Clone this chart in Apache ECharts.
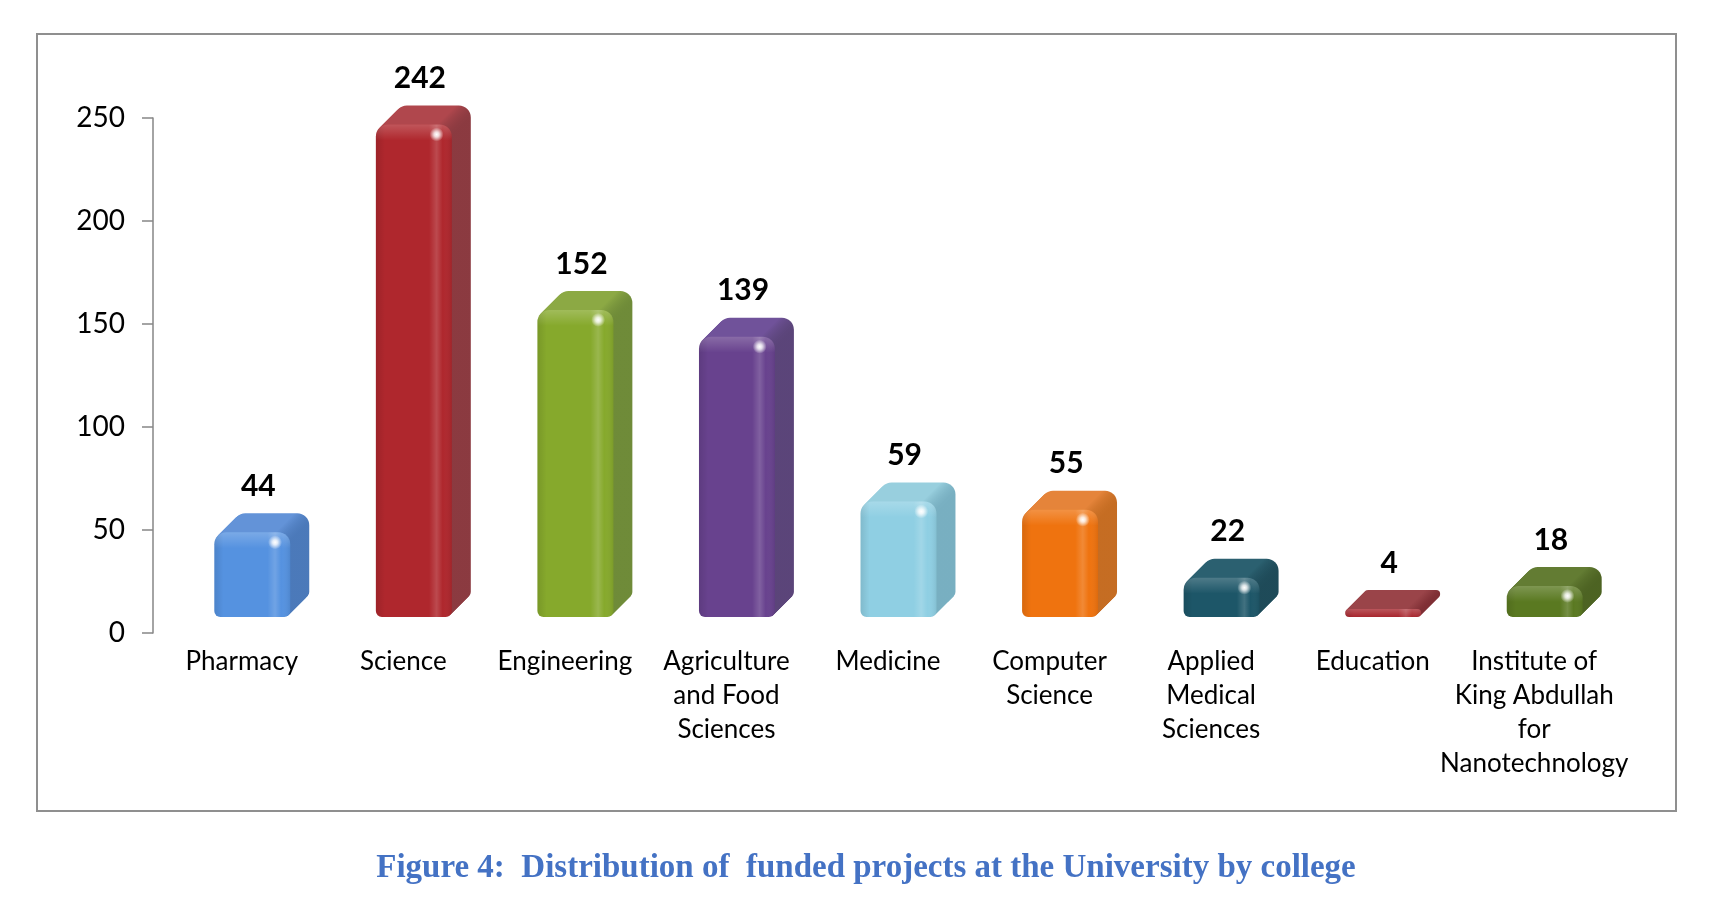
<!DOCTYPE html>
<html>
<head>
<meta charset="utf-8">
<title>Funded projects by college</title>
<script src="https://cdn.jsdelivr.net/npm/echarts@6.0.0/dist/echarts.min.js"></script>
<style>
  html, body { margin: 0; padding: 0; background: #ffffff; }
  #chart { width: 1712px; height: 919px; }
</style>
</head>
<body>
<div id="chart"></div>
<script>
// data
const colleges = [
  "Pharmacy",
  "Science",
  "Engineering",
  "Agriculture\nand Food\nSciences",
  "Medicine",
  "Computer\nScience",
  "Applied\nMedical\nSciences",
  "Education",
  "Institute of\nKing Abdullah\nfor\nNanotechnology",
];
const projects = [44, 242, 152, 139, 59, 55, 22, 4, 18];
const yTicks = [0, 50, 100, 150, 200, 250];

const frontColors = ["#5592E0", "#AF272D", "#86A92C", "#68428E", "#8FCFE3", "#EF730F", "#1D5668", "#A8262E", "#5A7921"];
const topColors = ["#6393D8", "#B0474D", "#8CA944", "#70529A", "#98CFDE", "#E5843A", "#2B6070", "#9A4449", "#637C33"];
const sideColors = ["#4A78B8", "#8A3A40", "#6E8A38", "#5A4478", "#77AEC0", "#C46C22", "#1E4A58", "#7E2E34", "#4C6222"];

const caption = "Figure 4:  Distribution of  funded projects at the University by college";

const myChart = echarts.init(document.getElementById("chart"));

// rounded 3D box for each college
function renderBox(params, api) {
  const idx = api.value(0);
  const val = api.value(1);
  const topPt = api.coord([idx, val]);
  const basePt = api.coord([idx, 0]);
  const band = api.size([1, 0])[0];
  const w = band * 0.47;
  const x0 = topPt[0] - band * 0.17;
  const depth = Math.round(band * 0.115);
  const bottom = basePt[1] - 16;
  const top = Math.min(topPt[1] - 10, bottom - 8);
  const h = bottom - top;
  const r = Math.min(12, h / 2);
  const rb = Math.min(6, h / 2);
  const children = [];

  // extrusion (top + side faces)
  for (let k = depth; k >= 1; k--) {
    children.push({
      type: "rect",
      shape: { x: x0 + k, y: top - k, width: w, height: h, r: [r, r, rb, rb] },
      style: {
        fill: new echarts.graphic.LinearGradient(0, 0, 1, 0, [
          { offset: 0, color: topColors[idx] },
          { offset: 0.8, color: topColors[idx] },
          { offset: 1, color: sideColors[idx] },
        ]),
      },
    });
  }
  // front face
  children.push({
    type: "rect",
    shape: { x: x0, y: top, width: w, height: h, r: [r, r, rb, rb] },
    style: { fill: frontColors[idx] },
  });
  children.push({
    type: "rect",
    shape: { x: x0, y: top, width: w, height: h, r: [r, r, rb, rb] },
    style: {
      fill: new echarts.graphic.LinearGradient(0, 0, 1, 0, [
        { offset: 0, color: "rgba(0,0,0,0.10)" },
        { offset: 0.12, color: "rgba(0,0,0,0)" },
        { offset: 0.7, color: "rgba(255,255,255,0)" },
        { offset: 0.8, color: "rgba(255,255,255,0.16)" },
        { offset: 0.88, color: "rgba(255,255,255,0)" },
        { offset: 1, color: "rgba(0,0,0,0.08)" },
      ]),
    },
  });
  // top bevel
  children.push({
    type: "rect",
    shape: { x: x0, y: top, width: w, height: Math.min(h, 16), r: [r, r, 0, 0] },
    style: {
      fill: new echarts.graphic.LinearGradient(0, 0, 0, 1, [
        { offset: 0, color: "rgba(255,255,255,0.22)" },
        { offset: 1, color: "rgba(255,255,255,0)" },
      ]),
    },
  });
  // specular spot
  if (h > 20) {
    children.push({
      type: "circle",
      shape: { cx: x0 + w * 0.8, cy: top + 10, r: 7 },
      style: {
        fill: new echarts.graphic.RadialGradient(0.5, 0.5, 0.5, [
          { offset: 0, color: "rgba(255,255,255,1)" },
          { offset: 0.35, color: "rgba(255,255,255,0.8)" },
          { offset: 1, color: "rgba(255,255,255,0)" },
        ]),
      },
    });
  }
  // value label
  children.push({
    type: "text",
    x: x0 + w * 0.58,
    y: top - depth - 12,
    style: {
      text: String(val),
      fill: "#000",
      fontSize: 30,
      fontWeight: "bold",
      fontFamily: "Lato",
      align: "center",
      verticalAlign: "bottom",
    },
  });
  return { type: "group", children: children };
}

const option = {
  backgroundColor: "#ffffff",
  animation: false,
  grid: { left: 161, right: 97, top: 118, bottom: 286 },
  xAxis: {
    type: "category",
    data: colleges,
    axisLine: { show: false },
    axisTick: { show: false },
    axisLabel: {
      interval: 0,
      fontSize: 26,
      fontFamily: "Lato",
      color: "#000",
      lineHeight: 34,
      margin: 12,
    },
  },
  yAxis: {
    type: "value",
    min: yTicks[0],
    max: yTicks[yTicks.length - 1],
    interval: yTicks[1] - yTicks[0],
    offset: 8,
    axisLine: { show: true, lineStyle: { color: "#868686", width: 1.5 } },
    axisTick: { show: true, length: 11, lineStyle: { color: "#868686", width: 1.5 } },
    splitLine: { show: false },
    axisLabel: { fontSize: 28, fontFamily: "Lato", color: "#000", margin: 28 },
  },
  series: [
    {
      type: "custom",
      renderItem: renderBox,
      data: projects.map((v, i) => [i, v]),
      encode: { x: 0, y: 1 },
    },
  ],
  graphic: [
    {
      type: "rect",
      silent: true,
      z: -1,
      shape: { x: 37, y: 34, width: 1639, height: 777 },
      style: { fill: "transparent", stroke: "#8F8F8F", lineWidth: 2 },
    },
    {
      type: "text",
      x: 866,
      y: 868,
      style: {
        text: caption,
        fill: "#4472C4",
        fontSize: 33,
        fontWeight: "bold",
        fontFamily: "Liberation Serif",
        align: "center",
        verticalAlign: "middle",
      },
    },
  ],
};

myChart.setOption(option);
window.onresize = function () {
  myChart.resize();
};
</script>
</body>
</html>
